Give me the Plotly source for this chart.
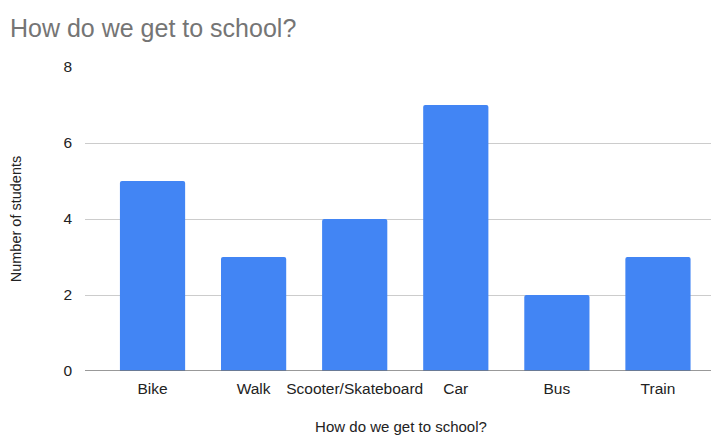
import plotly.graph_objects as go

categories = ["Bike", "Walk", "Scooter/Skateboard", "Car", "Bus", "Train"]
students = [5, 3, 4, 7, 2, 3]
y_ticks = [0, 2, 4, 6, 8]

fig = go.Figure(go.Bar(
    x=categories, y=students,
    marker=dict(color="#4285F4", line=dict(width=0), cornerradius=2),
    width=0.645,
))

font_family = "Liberation Sans, Arial, sans-serif"
W, H = 711, 427
fig.update_layout(
    width=W, height=H,
    margin=dict(l=77, r=2, t=59, b=64, autoexpand=False),
    paper_bgcolor="white", plot_bgcolor="white",
    font=dict(family=font_family, size=15, color="#222222"),
    title=dict(text="How do we get to school?", x=2/W, xref="container", xanchor="left",
               y=1 - 20/H, yref="container", yanchor="middle",
               font=dict(size=25, color="#757575", family=font_family)),
    showlegend=False,
)
fig.update_xaxes(
    range=[-0.668, 5.584], automargin=False,
    showgrid=False, showline=False,
    ticks="", ticklabelstandoff=6, tickfont=dict(size=15.5, color="#222222"),
    title=dict(text="How do we get to school?", font=dict(size=15, color="#222222"), standoff=28),
    fixedrange=True,
)
fig.update_yaxes(
    range=[0, 8], tickvals=y_ticks, automargin=False,
    showgrid=True, gridcolor="#cccccc", gridwidth=1,
    zeroline=False, showline=False,
    ticks="", ticklabelstandoff=12,
    tickfont=dict(size=15.5, color="#222222"),
    title=dict(text="Number of students", font=dict(size=14.5, color="#222222"), standoff=43),
)
fig.add_shape(type="line", xref="paper", yref="y", x0=0, x1=1, y0=0, y1=0,
              line=dict(color="#777777", width=1.6))

fig.write_html("out.html")
